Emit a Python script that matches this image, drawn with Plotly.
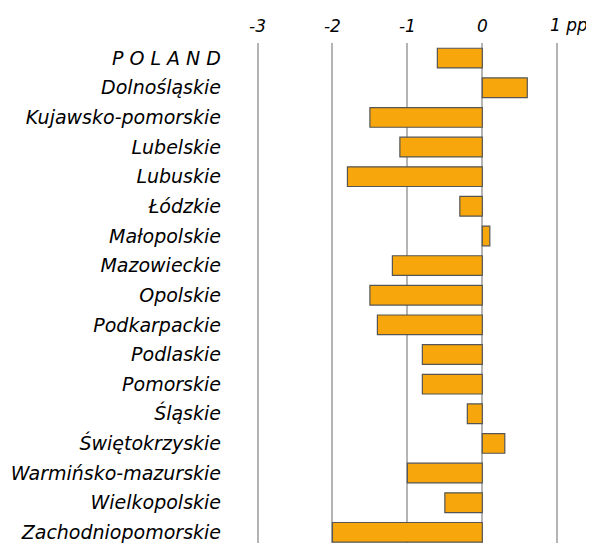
import plotly.graph_objects as go

regions = ["P O L A N D", "Dolnośląskie", "Kujawsko-pomorskie", "Lubelskie", "Lubuskie",
           "Łódzkie", "Małopolskie", "Mazowieckie", "Opolskie", "Podkarpackie", "Podlaskie",
           "Pomorskie", "Śląskie", "Świętokrzyskie", "Warmińsko-mazurskie", "Wielkopolskie",
           "Zachodniopomorskie"]
change_pp = [-0.6, 0.6, -1.5, -1.1, -1.8, -0.3, 0.1, -1.2, -1.5, -1.4, -0.8,
             -0.8, -0.2, 0.3, -1.0, -0.5, -2.0]
x_tick_vals = [-3, -2, -1, 0]
x_tick_text = ["-3", "-2", "-1", "0"]
unit_label = "1 pp"

FONT = "DejaVu Sans, Liberation Sans, Arial, sans-serif"

fig = go.Figure(go.Bar(
    x=change_pp, y=list(range(len(regions))), orientation="h",
    width=0.665,
    marker=dict(color="#F7A70B", line=dict(color="#555555", width=1.2)),
))

fig.update_layout(
    width=594, height=543,
    margin=dict(l=248, r=41, t=35, b=8),
    paper_bgcolor="white", plot_bgcolor="white",
    showlegend=False,
    font=dict(family=FONT, color="#000000"),
    xaxis=dict(
        side="top", range=[-3.02, 1.05], automargin=False,
        tickvals=x_tick_vals + [1], ticktext=x_tick_text + [""],
        tickfont=dict(size=17, family=FONT, style="italic"),
        showgrid=True, gridcolor="#b4b4b4", gridwidth=1.5,
        zeroline=True, zerolinecolor="#b4b4b4", zerolinewidth=1.5,
        showline=False, ticks="", ticklabelstandoff=7,
    ),
    yaxis=dict(
        range=[16.36, -0.51], automargin=False,
        tickvals=list(range(len(regions))), ticktext=regions,
        tickfont=dict(size=19, family=FONT, style="italic"),
        showgrid=False, zeroline=False, showline=False, ticks="",
        ticklabelstandoff=34,
    ),
    annotations=[dict(
        text=unit_label, xref="x", x=1, xanchor="left", xshift=-9,
        yref="paper", y=1, yanchor="bottom", yshift=6, showarrow=False,
        font=dict(size=17, family=FONT, style="italic", color="#000000"),
    )],
)

fig.write_html("out.html")
